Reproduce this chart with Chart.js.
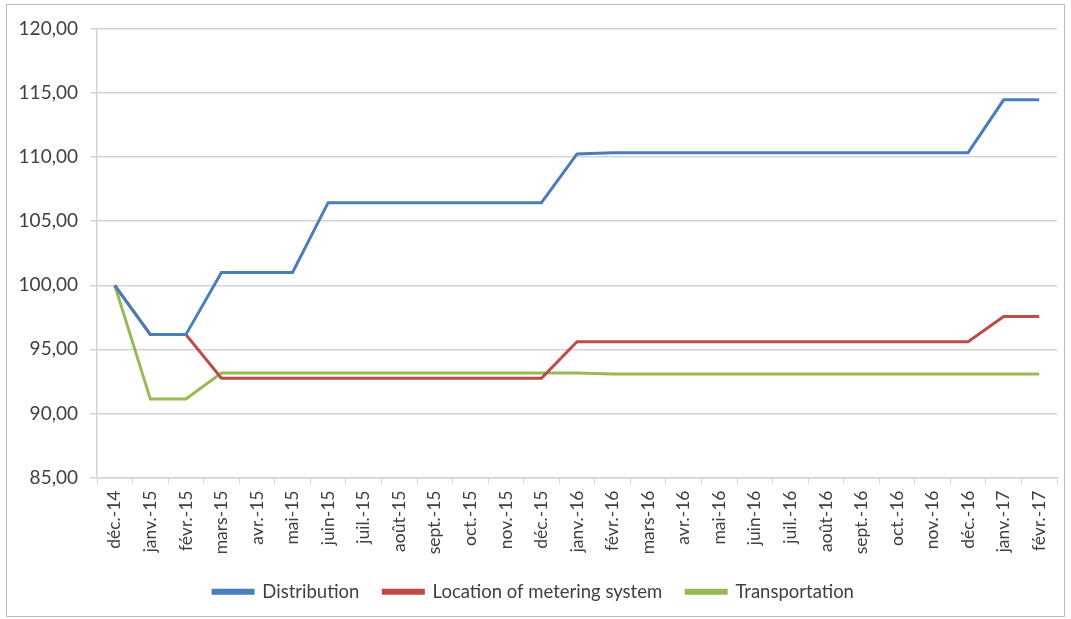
<!DOCTYPE html>
<html>
<head>
<meta charset="utf-8">
<script src="https://cdn.jsdelivr.net/npm/chart.js@4/dist/chart.umd.min.js"></script>
<style>
  html, body { margin: 0; padding: 0; background: #fff; }
  #wrap { position: relative; width: 1071px; height: 619px; }
</style>
</head>
<body>
<div id="wrap"><canvas id="c" width="1071" height="619"></canvas></div>
<script>
// Monthly index values, December 2014 = 100
const months = [
  'déc.-14', 'janv.-15', 'févr.-15', 'mars-15', 'avr.-15', 'mai-15', 'juin-15',
  'juil.-15', 'août-15', 'sept.-15', 'oct.-15', 'nov.-15', 'déc.-15',
  'janv.-16', 'févr.-16', 'mars-16', 'avr.-16', 'mai-16', 'juin-16',
  'juil.-16', 'août-16', 'sept.-16', 'oct.-16', 'nov.-16', 'déc.-16',
  'janv.-17', 'févr.-17'
];

const distribution = [
  100.00, 96.15, 96.15, 101.00, 101.00, 101.00, 106.45,
  106.45, 106.45, 106.45, 106.45, 106.45, 106.45,
  110.25, 110.35, 110.35, 110.35, 110.35, 110.35,
  110.35, 110.35, 110.35, 110.35, 110.35, 110.35,
  114.47, 114.47
];

const meteringLocation = [
  100.00, 96.15, 96.15, 92.75, 92.75, 92.75, 92.75,
  92.75, 92.75, 92.75, 92.75, 92.75, 92.75,
  95.60, 95.60, 95.60, 95.60, 95.60, 95.60,
  95.60, 95.60, 95.60, 95.60, 95.60, 95.60,
  97.57, 97.57
];

const transportation = [
  100.00, 91.12, 91.12, 93.15, 93.15, 93.15, 93.15,
  93.15, 93.15, 93.15, 93.15, 93.15, 93.15,
  93.15, 93.07, 93.07, 93.07, 93.07, 93.07,
  93.07, 93.07, 93.07, 93.07, 93.07, 93.07,
  93.07, 93.07
];

const seriesNames = ['Distribution', 'Location of metering system', 'Transportation'];
const seriesColors = ['#4a7ebb', '#be4b48', '#98b954'];

const FONT = 'Lato, "Open Sans", sans-serif';
const TEXT = '#404040';
const GRID = '#d4d4d4';

// Thin grey frame around the whole figure
const framePlugin = {
  id: 'frame',
  afterDraw(chart) {
    const ctx = chart.ctx;
    ctx.save();
    ctx.strokeStyle = '#bfbfbf';
    ctx.lineWidth = 1;
    ctx.strokeRect(6.5, 4.5, 1058, 612);
    ctx.restore();
  }
};

function lineSet(label, data, color) {
  return {
    label: label,
    data: data,
    borderColor: color,
    backgroundColor: color,
    borderWidth: 3,
    pointRadius: 0,
    pointHoverRadius: 0,
    tension: 0,
    fill: false
  };
}

new Chart(document.getElementById('c'), {
  type: 'line',
  data: {
    labels: months,
    datasets: [
      lineSet(seriesNames[0], distribution, seriesColors[0]),
      lineSet(seriesNames[1], meteringLocation, seriesColors[1]),
      lineSet(seriesNames[2], transportation, seriesColors[2])
    ]
  },
  options: {
    responsive: false,
    animation: false,
    devicePixelRatio: 1,
    layout: { padding: { left: 10, right: 14, top: 29, bottom: 8 } },
    plugins: {
      tooltip: { enabled: false },
      legend: {
        position: 'bottom',
        labels: {
          color: TEXT,
          font: { family: FONT, size: 18.5 },
          boxWidth: 40,
          boxHeight: 3,
          padding: 24
        }
      }
    },
    scales: {
      x: {
        offset: true,
        grid: {
          offset: true,
          drawOnChartArea: false,
          drawTicks: true,
          tickLength: 6,
          color: GRID
        },
        border: { display: true, color: GRID, width: 1.5 },
        ticks: {
          color: TEXT,
          font: { family: FONT, size: 17.5 },
          minRotation: 90,
          maxRotation: 90,
          autoSkip: false,
          padding: 7
        },
        afterFit(scale) { scale.height = 81; }
      },
      y: {
        min: 85,
        max: 120,
        grid: { color: GRID, tickLength: 7, lineWidth: 1.5 },
        border: { display: true, color: GRID, width: 1.5 },
        ticks: {
          stepSize: 5,
          color: TEXT,
          font: { family: FONT, size: 19 },
          padding: 12,
          callback: (v) => v.toFixed(2).replace('.', ',')
        },
        afterFit(scale) { scale.width = 87; }
      }
    }
  },
  plugins: [framePlugin]
});
</script>
</body>
</html>
